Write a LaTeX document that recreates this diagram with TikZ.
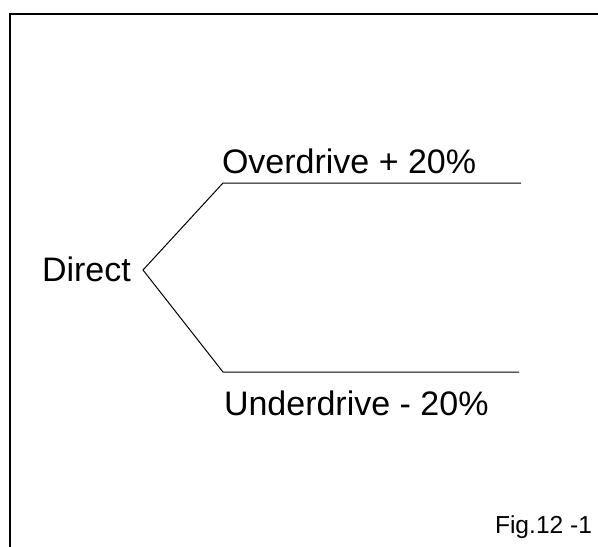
\documentclass[tikz,border=0pt]{standalone}
\usepackage{fontspec}
\setmainfont{Liberation Sans}
\begin{document}
\begin{tikzpicture}[x=1pt,y=-1pt,
  lbl/.style={anchor=base west,inner sep=0pt,outer sep=0pt,font=\fontsize{34}{40}\selectfont},
  small/.style={anchor=base west,inner sep=0pt,outer sep=0pt,font=\fontsize{24.6}{29}\selectfont},
  branch/.style={line width=1pt,line join=miter}]
\useasboundingbox (0,0) rectangle (598,547);
% frame
\coordinate (fbl) at (10,560);
\coordinate (ftl) at (10,14);
\coordinate (ftr) at (610,14);
\draw[line width=2pt] (fbl) -- (ftl) -- (ftr);
% branches
\coordinate (v) at (143,270);
\coordinate (ou) at (223,183);
\coordinate (oe) at (521,183);
\coordinate (ul) at (223,372);
\coordinate (ue) at (519,372);
\draw[branch] (oe) -- (ou) -- (v) -- (ul) -- (ue);
% labels
\node[lbl] (direct) at (42,281) {Direct};
\node[lbl] (over) at (222,173) {Overdrive + 20\%};
\node[lbl] (under) at (224,415) {Underdrive - 20\%};
\node[small] (fig) at (495,533) {Fig.12 -1};
\end{tikzpicture}
\end{document}
